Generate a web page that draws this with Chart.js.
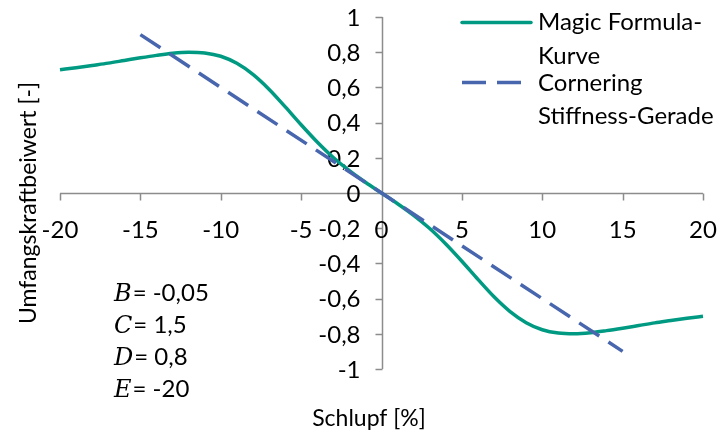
<!DOCTYPE html>
<html>
<head>
<meta charset="utf-8">
<script src="https://cdn.jsdelivr.net/npm/chart.js@4.4.0/dist/chart.umd.min.js"></script>
<style>
  html, body { margin: 0; padding: 0; background: #fff; }
  #wrap { width: 720px; height: 434px; }
</style>
</head>
<body>
<div id="wrap"><canvas id="slipChart" width="720" height="434"></canvas></div>
<script>
// values
const slip = [-20, -19, -18, -17, -16, -15, -14, -13, -12, -11, -10, -9, -8, -7, -6, -5, -4, -3, -2, -1, 0,
  1, 2, 3, 4, 5, 6, 7, 8, 9, 10, 11, 12, 13, 14, 15, 16, 17, 18, 19, 20];
const magicCurve = [0.700, 0.712, 0.725, 0.738, 0.753, 0.768, 0.782, 0.794, 0.800, 0.796, 0.777, 0.737, 0.674, 0.590, 0.491, 0.388, 0.290, 0.202, 0.127, 0.061, 0,
  -0.061, -0.127, -0.202, -0.290, -0.388, -0.491, -0.590, -0.674, -0.737, -0.777, -0.796, -0.800, -0.794, -0.782, -0.768, -0.753, -0.738, -0.725, -0.712, -0.700];
const stiffSlip = [-15, 15];
const stiffLine = [0.9, -0.9];

const xTicks = [-20, -15, -10, -5, 0, 5, 10, 15, 20];
const xTickLabels = ["-20", "-15", "-10", "-5", "0", "5", "10", "15", "20"];
const yTicks = [-1, -0.8, -0.6, -0.4, -0.2, 0, 0.2, 0.4, 0.6, 0.8, 1];
const yTickLabels = ["-1", "-0,8", "-0,6", "-0,4", "-0,2", "0", "0,2", "0,4", "0,6", "0,8", "1"];

const legendLabels = [["Magic Formula-", "Kurve"], ["Cornering", "Stiffness-Gerade"]];
const paramNames = ["B", "C", "D", "E"];
const paramValues = ["-0,05", "1,5", "0,8", "-20"];

const GREEN = "#009a82";
const BLUE = "#4866ae";
const AXIS = "#8c8c8c";
const FONT = "Lato";
const FS = 24;

// axes crossing at the origin, drawn from the chart's own scales
const crossAxes = {
  id: "crossAxes",
  beforeDatasetsDraw(chart) {
    const ctx = chart.ctx;
    const xs = chart.scales.x, ys = chart.scales.y;
    const x0 = Math.round(xs.getPixelForValue(0)) + 0.5;
    const y0 = Math.round(ys.getPixelForValue(0)) + 0.5;
    ctx.save();
    ctx.strokeStyle = AXIS;
    ctx.lineWidth = 1.5;
    ctx.beginPath();
    ctx.moveTo(xs.left, y0); ctx.lineTo(xs.right, y0);
    ctx.moveTo(x0, ys.top); ctx.lineTo(x0, ys.bottom);
    xTicks.forEach(v => {
      const px = Math.round(xs.getPixelForValue(v)) + 0.5;
      ctx.moveTo(px, y0); ctx.lineTo(px, y0 + 7);
    });
    yTicks.forEach(v => {
      const py = Math.round(ys.getPixelForValue(v)) + 0.5;
      ctx.moveTo(x0 - 7, py); ctx.lineTo(x0, py);
    });
    ctx.stroke();

    ctx.fillStyle = "#000";
    ctx.font = FS + "px " + FONT;
    ctx.textAlign = "center";
    ctx.textBaseline = "alphabetic";
    xTicks.forEach((v, i) => {
      ctx.fillText(xTickLabels[i], xs.getPixelForValue(v), y0 + 44);
    });
    ctx.textAlign = "right";
    ctx.textBaseline = "middle";
    yTicks.forEach((v, i) => {
      ctx.fillText(yTickLabels[i], x0 - 22, ys.getPixelForValue(v) + 1);
    });
    ctx.restore();
  }
};

// legend, axis titles and parameter text
const extrasPlugin = {
  id: "extras",
  afterDraw(chart) {
    const ctx = chart.ctx;
    ctx.save();
    ctx.fillStyle = "#000";
    ctx.font = FS + "px " + FONT;
    ctx.textBaseline = "alphabetic";
    ctx.textAlign = "left";

    // legend
    ctx.lineWidth = 3.5;
    ctx.lineCap = "round";
    ctx.strokeStyle = GREEN;
    ctx.beginPath(); ctx.moveTo(462, 22.5); ctx.lineTo(531, 22.5); ctx.stroke();
    ctx.strokeStyle = BLUE;
    ctx.lineCap = "butt";
    ctx.setLineDash([24, 11]);
    ctx.beginPath(); ctx.moveTo(462, 82.5); ctx.lineTo(532, 82.5); ctx.stroke();
    ctx.setLineDash([]);
    ctx.fillText(legendLabels[0][0], 538, 30);
    ctx.fillText(legendLabels[0][1], 538, 64);
    ctx.fillText(legendLabels[1][0], 538, 91);
    ctx.fillText(legendLabels[1][1], 538, 124);

    // axis titles
    ctx.textAlign = "center";
    ctx.font = "23px " + FONT;
    ctx.fillText("Schlupf [%]", 369, 426);
    ctx.save();
    ctx.translate(36, 203);
    ctx.rotate(-Math.PI / 2);
    ctx.fillText("Umfangskraftbeiwert [-]", 0, 0);
    ctx.restore();

    // parameters
    ctx.textAlign = "left";
    paramNames.forEach((n, i) => {
      const y = 301 + i * 32;
      ctx.font = "italic " + FS + "px 'DejaVu Serif'";
      ctx.fillText(n, 114, y);
      const w = ctx.measureText(n).width;
      ctx.font = FS + "px " + FONT;
      ctx.fillText("= " + paramValues[i], 114 + w + 1, y);
    });
    ctx.restore();
  }
};

new Chart(document.getElementById("slipChart"), {
  type: "line",
  data: {
    datasets: [
      {
        label: "Cornering Stiffness-Gerade",
        data: stiffSlip.map((x, i) => ({ x: x, y: stiffLine[i] })),
        borderColor: BLUE,
        borderWidth: 3.5,
        borderDash: [24, 11],
        pointRadius: 0,
        clip: 6,
        order: 0
      },
      {
        label: "Magic Formula-Kurve",
        data: slip.map((x, i) => ({ x: x, y: magicCurve[i] })),
        borderColor: GREEN,
        borderWidth: 3.5,
        cubicInterpolationMode: "monotone",
        pointRadius: 0,
        clip: 6,
        order: 1
      }
    ]
  },
  options: {
    responsive: false,
    animation: false,
    layout: { padding: { left: 60, right: 17, top: 17, bottom: 65 } },
    plugins: { legend: { display: false }, tooltip: { enabled: false } },
    scales: {
      x: { type: "linear", min: -20, max: 20, display: false },
      y: { type: "linear", min: -1, max: 1, display: false }
    }
  },
  plugins: [crossAxes, extrasPlugin]
});
</script>
</body>
</html>
